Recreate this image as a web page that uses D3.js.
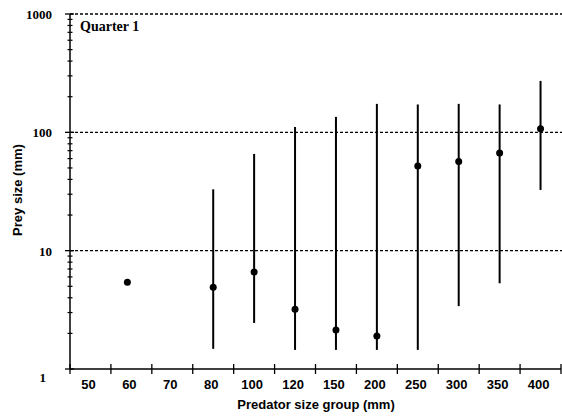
<!DOCTYPE html>
<meta charset="utf-8">
<style>
	body { margin: 0; background: #fff; }
	.ytick { font-family: "Liberation Serif", serif; font-weight: bold; font-size: 13px; fill: #000; }
	.xtick { font-family: "Liberation Sans", Arial, sans-serif; font-weight: bold; font-size: 13px; fill: #000; }
	.title { font-family: "Liberation Sans", Arial, sans-serif; font-weight: bold; font-size: 13px; fill: #000; }
</style>
<body>
<svg id="chart" width="562" height="418"></svg>
<script src="https://d3js.org/d3.v7.min.js"></script>
<script>
	// predator size groups (mm)
	var categories = ["50", "60", "70", "80", "100", "120", "150", "200", "250", "300", "350", "400"];
	// prey size (mm): central point and range per group
	var median = [null, 5.4, null, 4.9, 6.6, 3.2, 2.14, 1.9, 52, 56.6, 67, 107];
	var lower  = [null, null, null, 1.48, 2.45, 1.45, 1.45, 1.45, 1.45, 3.4, 5.3, 32.6];
	var upper  = [null, null, null, 33, 65.7, 111, 135, 174, 172, 174, 172, 272];
	var yTicks = [1, 10, 100, 1000];

	var svg = d3.select("#chart");
	var plotL = 70, plotR = 561, plotT = 14, plotB = 369;

	var x = d3.scaleBand().domain(categories).range([plotL, plotR]);
	var y = d3.scaleLog().domain([1, 1000]).range([plotB, plotT]);

	var data = categories.map(function(c, i) {
		return {cat: c, mid: median[i], lo: lower[i], hi: upper[i]};
	});

	// dotted gridlines
	svg.selectAll(".grid")
		.data([10, 100, 1000])
		.enter().append("line")
		.attr("x1", plotL).attr("x2", 562)
		.attr("y1", function(d) { return y(d); })
		.attr("y2", function(d) { return y(d); })
		.attr("stroke", "#000")
		.attr("stroke-width", 1.3)
		.attr("stroke-dasharray", "3,2");

	// y axis line + ticks
	svg.append("line")
		.attr("x1", plotL).attr("x2", plotL)
		.attr("y1", plotT).attr("y2", plotB)
		.attr("stroke", "#000").attr("stroke-width", 1.5);

	var minor = [];
	[1, 10, 100].forEach(function(dec) {
		for (var k = 2; k <= 9; k++) minor.push(dec * k);
	});
	svg.selectAll(".minor")
		.data(minor)
		.enter().append("line")
		.attr("x1", plotL - 2.5).attr("x2", plotL + 2.5)
		.attr("y1", function(d) { return y(d); })
		.attr("y2", function(d) { return y(d); })
		.attr("stroke", "#000").attr("stroke-width", 1.2);

	svg.selectAll(".major")
		.data(yTicks)
		.enter().append("line")
		.attr("x1", plotL - 5).attr("x2", plotL + 4)
		.attr("y1", function(d) { return y(d); })
		.attr("y2", function(d) { return y(d); })
		.attr("stroke", "#000").attr("stroke-width", 1.3);

	svg.selectAll(".ylab")
		.data(yTicks)
		.enter().append("text")
		.attr("class", "ytick")
		.attr("x", function(d) { return d == 1 ? 46 : 52; })
		.attr("y", function(d) { return y(d) + (d == 1 ? 13 : 5); })
		.attr("text-anchor", "end")
		.text(function(d) { return d; });

	// x axis line + ticks
	svg.append("line")
		.attr("x1", plotL).attr("x2", plotR)
		.attr("y1", plotB).attr("y2", plotB)
		.attr("stroke", "#000").attr("stroke-width", 1.5);

	var bounds = categories.map(function(c) { return x(c); }).concat([plotR]);
	svg.selectAll(".xt")
		.data(bounds)
		.enter().append("line")
		.attr("x1", function(d) { return d; })
		.attr("x2", function(d) { return d; })
		.attr("y1", plotB - 5).attr("y2", plotB + 5)
		.attr("stroke", "#000").attr("stroke-width", 1.3);

	svg.selectAll(".xlab")
		.data(categories)
		.enter().append("text")
		.attr("class", "xtick")
		.attr("x", function(d) { return x(d) + x.bandwidth() / 2 - 2; })
		.attr("y", plotB + 20)
		.attr("text-anchor", "middle")
		.text(function(d) { return d; });

	// range bars
	svg.selectAll(".bar")
		.data(data.filter(function(d) { return d.lo != null; }))
		.enter().append("line")
		.attr("x1", function(d) { return x(d.cat) + x.bandwidth() / 2; })
		.attr("x2", function(d) { return x(d.cat) + x.bandwidth() / 2; })
		.attr("y1", function(d) { return y(d.lo); })
		.attr("y2", function(d) { return y(d.hi); })
		.attr("stroke", "#000").attr("stroke-width", 2);

	svg.selectAll(".dot")
		.data(data.filter(function(d) { return d.mid != null; }))
		.enter().append("circle")
		.attr("cx", function(d) { return x(d.cat) + x.bandwidth() / 2 - (d.lo == null ? 4 : 0); })
		.attr("cy", function(d) { return y(d.mid); })
		.attr("r", 3.5)
		.attr("fill", "#000");

	// titles
	svg.append("text")
		.attr("x", 80).attr("y", 31)
		.attr("font-family", "Liberation Serif, serif")
		.attr("font-weight", "bold")
		.attr("font-size", 14)
		.text("Quarter 1");

	svg.append("text")
		.attr("class", "title")
		.attr("transform", "translate(22,190) rotate(-90)")
		.attr("text-anchor", "middle")
		.text("Prey size (mm)");

	svg.append("text")
		.attr("class", "title")
		.attr("x", 316).attr("y", 409)
		.attr("text-anchor", "middle")
		.text("Predator size group (mm)");
</script>
</body>
